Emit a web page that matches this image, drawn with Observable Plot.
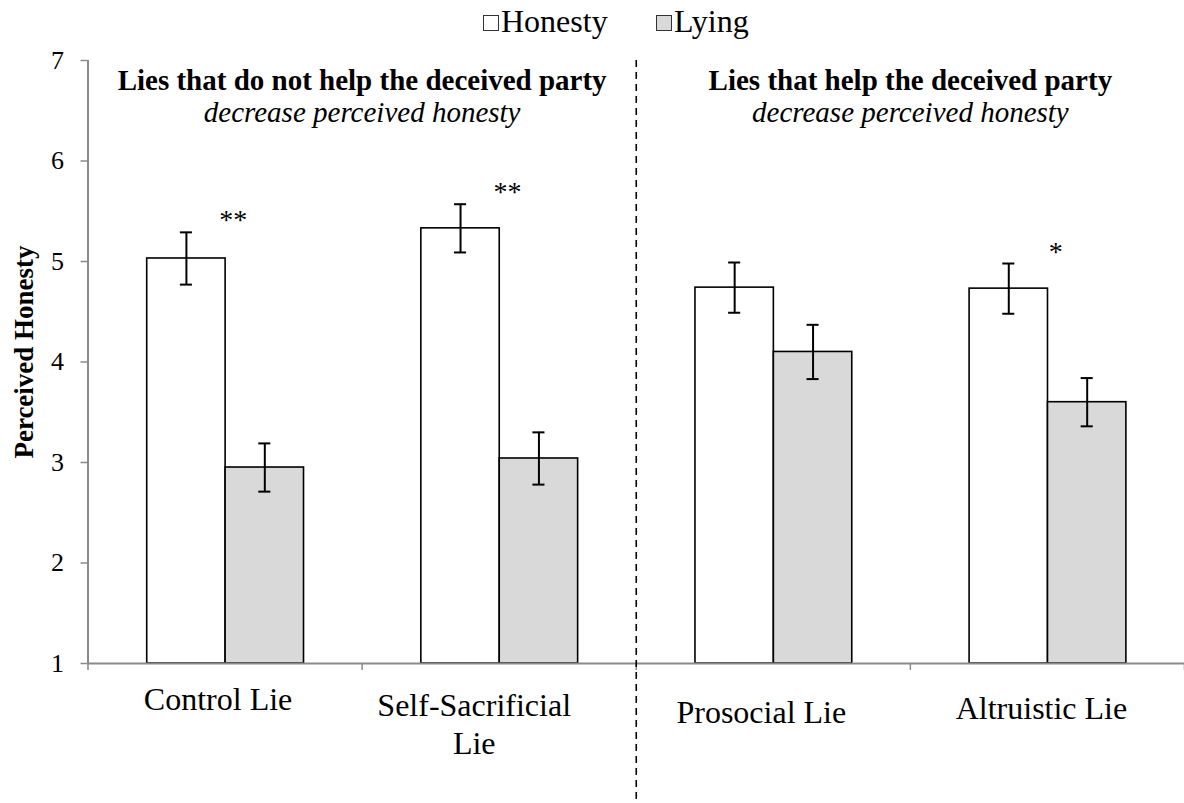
<!DOCTYPE html>
<html>
<head>
<meta charset="utf-8">
<script src="https://cdn.jsdelivr.net/npm/d3@7"></script>
<script src="https://cdn.jsdelivr.net/npm/@observablehq/plot@0.6"></script>
<style>
  html, body { margin: 0; padding: 0; background: #fff; }
  body { width: 1184px; height: 803px; overflow: hidden; font-family: "Liberation Serif", "Times New Roman", serif; }
  #legend { position: relative; height: 40px; width: 1184px; }
  .item { position: absolute; top: 0; height: 42px; display: flex; align-items: center; font-size: 32px; color: #000; }
  .swatch { width: 14px; height: 14px; border: 1.5px solid #333; margin-right: 2px; margin-top: 3px; }
  svg { display: block; }
</style>
</head>
<body>
<div id="legend"></div>
<div id="chart"></div>
<script>
// ---- data ----
const categories = ["Control Lie", "Self-Sacrificial\nLie", "Prosocial Lie", "Altruistic Lie"];
const series = ["Honesty", "Lying"];
const honestyMeans = [5.03, 5.33, 4.74, 4.73];
const honestyErrors = [0.26, 0.24, 0.25, 0.25];
const lyingMeans = [2.95, 3.04, 4.10, 3.60];
const lyingErrors = [0.24, 0.26, 0.27, 0.24];
const significance = ["**", "**", "", "*"];
const yTicks = [1, 2, 3, 4, 5, 6, 7];
const panelTitles = ["Lies that do not help the deceived party", "Lies that help the deceived party"];
const panelSubtitles = ["decrease perceived honesty", "decrease perceived honesty"];
const yLabel = "Perceived Honesty";

// ---- styles / layout ----
const font = "Liberation Serif, Times New Roman, serif";
const seriesColors = ["#ffffff", "#d9d9d9"];
const axisGray = "#8a8a8a";
const barStart = 0.216;   // fraction of group width before first bar
const barWidth = 0.286;   // fraction of group width per bar
const capHalf = 0.022;
const labelNudgeX = [-7, -25, -12, -6];   // pixel nudges of category labels
const labelNudgeY = [-6, 0, 7, 3];

// ---- table ----
const rows = categories.flatMap((c, i) => [
  {category: c, index: i, series: series[0], mean: honestyMeans[i], err: honestyErrors[i]},
  {category: c, index: i, series: series[1], mean: lyingMeans[i], err: lyingErrors[i]}
]);
const left = d => d.index + barStart + (d.series === series[1] ? barWidth : 0);
const center = d => left(d) + barWidth / 2;
const stars = categories.map((c, i) => ({index: i, label: significance[i], top: honestyMeans[i] + honestyErrors[i]})).filter(d => d.label);

// ---- legend ----
const legend = document.getElementById("legend");
const legendLeft = [483, 656];
series.forEach((s, i) => {
  const item = document.createElement("div");
  item.className = "item";
  item.style.left = legendLeft[i] + "px";
  const sw = document.createElement("div");
  sw.className = "swatch";
  sw.style.background = seriesColors[i];
  item.appendChild(sw);
  item.appendChild(document.createTextNode(s));
  legend.appendChild(item);
});

const chart = Plot.plot({
  width: 1184,
  height: 763,
  marginLeft: 87.5,
  marginRight: 0,
  marginTop: 20,
  marginBottom: 140,
  style: {fontFamily: font, background: "white", overflow: "visible"},
  x: {domain: [0, categories.length]},
  y: {domain: [1, 7]},
  color: {domain: series, range: seriesColors},
  marks: [
    Plot.rect(rows, {x1: left, x2: d => left(d) + barWidth, y1: () => 1, y2: "mean", fill: "series", stroke: "#000", strokeWidth: 1.6}),
    Plot.ruleX(rows, {x: center, y1: d => d.mean - d.err, y2: d => d.mean + d.err, stroke: "#000", strokeWidth: 2}),
    Plot.ruleY(rows, {x1: d => center(d) - capHalf, x2: d => center(d) + capHalf, y: d => d.mean + d.err, stroke: "#000", strokeWidth: 2}),
    Plot.ruleY(rows, {x1: d => center(d) - capHalf, x2: d => center(d) + capHalf, y: d => d.mean - d.err, stroke: "#000", strokeWidth: 2}),
    Plot.ruleY([1], {stroke: axisGray, strokeWidth: 2}),
    Plot.ruleX([0], {stroke: axisGray, strokeWidth: 2}),
    Plot.axisY({ticks: yTicks, tickFormat: d3.format("d"), tickSize: 7, tickPadding: 17, fontSize: 26, fontFamily: font, stroke: axisGray, strokeWidth: 1.5, label: null}),
    Plot.axisX({ticks: d3.range(categories.length + 1), tickSize: 7, tickFormat: () => "", stroke: axisGray, strokeWidth: 1.5, label: null}),
    Plot.ruleX([categories.length / 2], {stroke: "#000", strokeWidth: 1.6, strokeDasharray: "7,5", insetBottom: -140}),
    ...categories.map((c, i) => Plot.text([c], {x: () => i + 0.5, frameAnchor: "bottom", lineAnchor: "top", dx: labelNudgeX[i], dy: 26 + labelNudgeY[i], fontSize: 32, lineHeight: 1.18, fill: "#000"})),
    Plot.text(stars, {x: d => d.index + 0.53, y: "top", text: "label", lineAnchor: "bottom", dy: -3, fontSize: 28, fill: "#000"}),
    Plot.text(panelTitles, {x: (d, i) => 2 * i + 1, frameAnchor: "top", lineAnchor: "bottom", dy: 29, fontSize: 29, fontWeight: "bold", fill: "#000"}),
    Plot.text(panelSubtitles, {x: (d, i) => 2 * i + 1, frameAnchor: "top", lineAnchor: "bottom", dy: 61, fontSize: 29, fontStyle: "italic", fill: "#000"}),
    Plot.text([yLabel], {frameAnchor: "left", textAnchor: "middle", rotate: -90, dx: -64, dy: -10, fontSize: 27, fontWeight: "bold", fill: "#000"})
  ]
});
document.getElementById("chart").appendChild(chart);
</script>
</body>
</html>
